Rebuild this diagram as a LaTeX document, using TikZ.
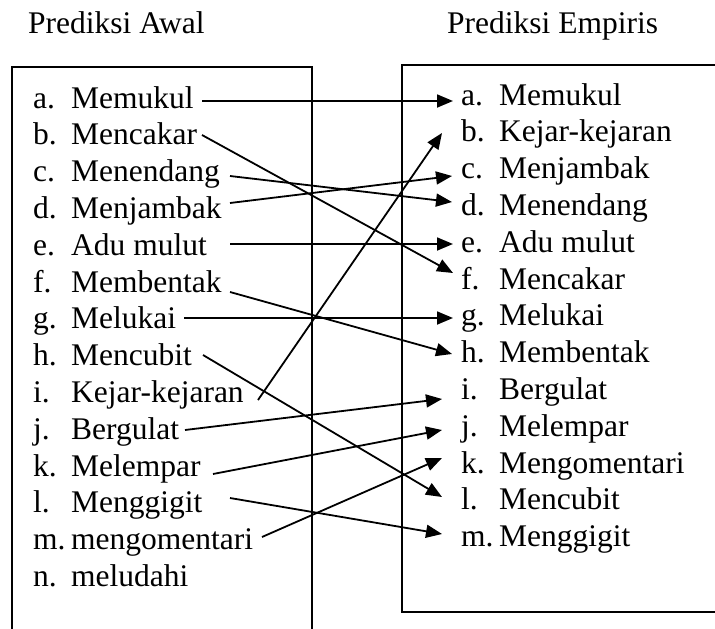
\documentclass[tikz,border=0pt]{standalone}
\usepackage{fontspec}
\setmainfont{Liberation Serif}
\usetikzlibrary{arrows.meta}
\newcommand{\lab}[1]{\makebox[38pt][l]{#1}}
\begin{document}
\begin{tikzpicture}[x=1pt,y=-1pt,
  item/.style={anchor=base west,inner sep=0pt,font=\fontsize{31.5}{36}\selectfont},
  ttl/.style={anchor=base west,inner sep=0pt,font=\fontsize{31.5}{36}\selectfont},
  frame/.style={line width=2pt},
  arr/.style={line width=1.8pt,-{Triangle[length=16pt,width=13pt]}},
  ln/.style={line width=1.8pt}]
\useasboundingbox (0,0) rectangle (715,629);
% titles
\node[ttl] (t1) at (28,34) {Prediksi Awal};
\node[ttl] (t2) at (447,34) {Prediksi Empiris};
% frames
\draw[frame] (12,629) -- (12,67) -- (312,67) -- (312,629);
\draw[frame] (716,65) -- (402,65) -- (402,612) -- (716,612);
% left items
\foreach \t [count=\i from 0] in {a.,b.,c.,d.,e.,f.,g.,h.,i.,j.,k.,l.,m.,n.}{}
\node[item] (la) at (33,108.0) {\lab{a.}Memukul};
\node[item] (lb) at (33,144.8) {\lab{b.}Mencakar};
\node[item] (lc) at (33,181.6) {\lab{c.}Menendang};
\node[item] (ld) at (33,218.4) {\lab{d.}Menjambak};
\node[item] (le) at (33,255.2) {\lab{e.}Adu mulut};
\node[item] (lf) at (33,292.0) {\lab{f.}Membentak};
\node[item] (lg) at (33,328.8) {\lab{g.}Melukai};
\node[item] (lh) at (33,365.6) {\lab{h.}Mencubit};
\node[item] (li) at (33,402.4) {\lab{i.}Kejar-kejaran};
\node[item] (lj) at (33,439.2) {\lab{j.}Bergulat};
\node[item] (lk) at (33,476.0) {\lab{k.}Melempar};
\node[item] (ll) at (33,512.8) {\lab{l.}Menggigit};
\node[item] (lm) at (33,549.6) {\lab{m.}mengomentari};
\node[item] (ln) at (33,586.4) {\lab{n.}meludahi};
% right items
\node[item] (ra) at (461,105.0) {\lab{a.}Memukul};
\node[item] (rb) at (461,141.8) {\lab{b.}Kejar-kejaran};
\node[item] (rc) at (461,178.6) {\lab{c.}Menjambak};
\node[item] (rd) at (461,215.4) {\lab{d.}Menendang};
\node[item] (re) at (461,252.2) {\lab{e.}Adu mulut};
\node[item] (rf) at (461,289.0) {\lab{f.}Mencakar};
\node[item] (rg) at (461,325.8) {\lab{g.}Melukai};
\node[item] (rh) at (461,362.6) {\lab{h.}Membentak};
\node[item] (ri) at (461,399.4) {\lab{i.}Bergulat};
\node[item] (rj) at (461,436.2) {\lab{j.}Melempar};
\node[item] (rk) at (461,473.0) {\lab{k.}Mengomentari};
\node[item] (rl) at (461,509.8) {\lab{l.}Mencubit};
\node[item] (rm) at (461,546.6) {\lab{m.}Menggigit};
% connector start points
\coordinate (sa) at (202,101);
\coordinate (sb) at (202,135);
\coordinate (sc) at (230,176);
\coordinate (sd) at (230,203);
\coordinate (se) at (230,244);
\coordinate (sf) at (230,292);
\coordinate (sg) at (184,318);
\coordinate (sh) at (203,355);
\coordinate (si) at (258,400);
\coordinate (sj) at (185,430);
\coordinate (sk) at (213,474);
\coordinate (sl) at (230,498);
\coordinate (sm) at (262,537);
% connector tips
\coordinate (ea) at (453,101);
\coordinate (eb) at (442,133);
\coordinate (ec) at (452,176);
\coordinate (ed) at (452,202);
\coordinate (ee) at (453,244);
\coordinate (ef) at (453,273);
\coordinate (eg) at (453,318);
\coordinate (eh) at (452,354);
\coordinate (ei) at (442,399);
\coordinate (ej) at (442,430);
\coordinate (ek) at (442,458);
\coordinate (el) at (442,497);
\coordinate (em) at (442,534);
% connectors
\draw[arr] (sa) -- (ea);
\draw[arr] (sb) -- (ef);
\draw[arr] (sc) -- (ed);
\draw[arr] (sd) -- (ec);
\draw[arr] (se) -- (ee);
\draw[arr] (sf) -- (eh);
\draw[arr] (sg) -- (eg);
\draw[arr] (sh) -- (el);
\draw[arr] (si) -- (eb);
\draw[arr] (sj) -- (ei);
\draw[arr] (sk) -- (ej);
\draw[arr] (sl) -- (em);
\draw[arr] (sm) -- (ek);
\end{tikzpicture}
\end{document}
